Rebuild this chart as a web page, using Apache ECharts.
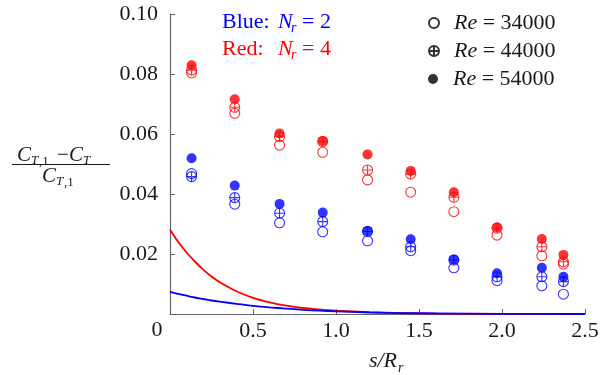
<!DOCTYPE html>
<html>
<head>
<meta charset="utf-8">
<script src="https://cdn.jsdelivr.net/npm/echarts@6/dist/echarts.min.js"></script>
<style>html,body{margin:0;padding:0;background:#fff;}#c{width:614px;height:375px;}</style>
</head>
<body>
<div id="c"></div>
<script>
// ---- data ----
var xPos = [0.13, 0.39, 0.66, 0.92, 1.19, 1.45, 1.71, 1.97, 2.24, 2.37];
var red34 = [0.0804, 0.0669, 0.0563, 0.0539, 0.0447, 0.0406, 0.0341, 0.0263, 0.0194, 0.0166];
var red44 = [0.0813, 0.0689, 0.0591, 0.0575, 0.0480, 0.0466, 0.0389, 0.0286, 0.0224, 0.0174];
var red54 = [0.0829, 0.0716, 0.0602, 0.0577, 0.0532, 0.0477, 0.0406, 0.0289, 0.0250, 0.0197];
var blue34 = [0.0468, 0.0366, 0.0304, 0.0274, 0.0244, 0.0211, 0.0154, 0.0111, 0.0094, 0.0066];
var blue44 = [0.0458, 0.0388, 0.0336, 0.0308, 0.0275, 0.0224, 0.0180, 0.0124, 0.0124, 0.0108];
var blue54 = [0.0519, 0.0428, 0.0367, 0.0338, 0.0277, 0.0249, 0.0182, 0.0136, 0.0154, 0.0124];
var curveX = [0, 0.05, 0.1, 0.15, 0.2, 0.25, 0.3, 0.4, 0.5, 0.6, 0.7, 0.8, 0.9, 1.0, 1.2, 1.4, 1.6, 2.0, 2.5];
var redCurve = [0.0282, 0.0240, 0.0205, 0.0175, 0.0148, 0.0125, 0.0106, 0.0076, 0.0054, 0.0039, 0.0028, 0.0020, 0.0015, 0.0011, 0.0006, 0.0003, 0.0001, 0.0, 0.0];
var blueCurve = [0.0074, 0.0067, 0.0061, 0.0055, 0.0050, 0.0045, 0.0041, 0.0034, 0.0027, 0.0022, 0.0018, 0.0014, 0.0011, 0.0009, 0.0005, 0.0003, 0.0002, 0.00005, 0.0];
var xTickLabels = ['0', '0.5', '1.0', '1.5', '2.0', '2.5'];
var yTickLabels = ['0', '0.02', '0.04', '0.06', '0.08', '0.10'];
var legendNames = ['Re = 34000', 'Re = 44000', 'Re = 54000'];

var FONT = 'Liberation Serif';
var RED = '#ff0000', BLUE = '#0000ff', TXT = '#1a1a1a';
var crossPath = 'path://M-5,0A5,5,0,1,1,5,0A5,5,0,1,1,-5,0ZM0,-5L0,5M-5,0L5,0';

function pairs(xs, ys) { return xs.map(function (x, i) { return [x, ys[i]]; }); }

function markerStyle(kind, color) {
  if (kind === 'hollow') return { symbol: 'circle', itemStyle: { color: 'transparent', borderColor: color, borderWidth: 1.1 } };
  if (kind === 'cross') return { symbol: crossPath, itemStyle: { color: 'transparent', borderColor: color, borderWidth: 1.1 } };
  return { symbol: 'circle', itemStyle: { color: color, borderWidth: 0 } };
}

function scatter(name, ys, kind, color) {
  var m = markerStyle(kind, color);
  return {
    name: name, type: 'scatter', data: pairs(xPos, ys),
    symbol: m.symbol, symbolSize: 10, itemStyle: m.itemStyle, z: 3
  };
}

var series = [
  { name: 'redCurve', type: 'line', data: pairs(curveX, redCurve), showSymbol: false, smooth: 0.3,
    lineStyle: { color: RED, width: 1.8 }, z: 2 },
  { name: 'blueCurve', type: 'line', data: pairs(curveX, blueCurve), showSymbol: false, smooth: 0.3,
    lineStyle: { color: BLUE, width: 1.8 }, z: 2 },
  scatter('b34', blue34, 'hollow', BLUE),
  scatter('b44', blue44, 'cross', BLUE),
  scatter('b54', blue54, 'filled', BLUE),
  scatter('r34', red34, 'hollow', RED),
  scatter('r44', red44, 'cross', RED),
  scatter('r54', red54, 'filled', RED)
];
// legend-only series (black markers)
var kinds = ['hollow', 'cross', 'filled'];
legendNames.forEach(function (n, i) {
  var m = markerStyle(kinds[i], '#000');
  series.push({ name: n, type: 'scatter', data: [], symbol: m.symbol, symbolSize: 10, itemStyle: m.itemStyle });
});

var legends = legendNames.map(function (n, i) {
  return {
    data: [n], orient: 'vertical', left: 428, top: 11 + i * 28, padding: 0,
    itemWidth: 30, itemHeight: 10, selectedMode: false,
    formatter: function (name) { return '{i|Re}{t|' + name.slice(2) + '}'; },
    textStyle: {
      fontFamily: FONT, fontSize: 22, color: TXT, lineHeight: 24,
      rich: {
        i: { fontFamily: FONT, fontSize: 22, fontStyle: 'italic', color: TXT },
        t: { fontFamily: FONT, fontSize: 22, color: TXT }
      }
    }
  };
});

function txt(x, y, s, size, opts) {
  opts = opts || {};
  return {
    type: 'text', x: x, y: y, z: 10,
    style: {
      text: s, x: 0, y: 0, fontFamily: FONT, fontSize: size,
      fontStyle: opts.italic ? 'italic' : 'normal',
      fill: opts.color || TXT, align: opts.align || 'left', verticalAlign: 'middle'
    }
  };
}

var graphics = [
  // Nr legend text
  txt(222, 22, 'Blue:', 22, { color: BLUE }),
  txt(278, 22, 'N', 22, { color: BLUE, italic: true }),
  txt(291, 28, 'r', 14, { color: BLUE, italic: true }),
  txt(302, 22, '= 2', 22, { color: BLUE }),
  txt(222, 49, 'Red:', 22, { color: RED }),
  txt(278, 49, 'N', 22, { color: RED, italic: true }),
  txt(291, 55, 'r', 14, { color: RED, italic: true }),
  txt(302, 49, '= 4', 22, { color: RED }),
  // shared zero label
  txt(157, 330, '0', 22, { align: 'center' }),
  // x axis title
  txt(397, 361, 's/R', 22, { italic: true, align: 'right' }),
  txt(398, 368, 'r', 14, { italic: true }),
  // y axis title (fraction)
  txt(17, 155, 'C', 21, { italic: true }),
  txt(31, 161, 'T', 13, { italic: true }),
  txt(39, 162, ',1', 13, {}),
  txt(63, 155, '\u2212', 21, { align: 'center' }),
  txt(69, 155, 'C', 21, { italic: true }),
  txt(83, 161, 'T', 13, { italic: true }),
  txt(42, 176, 'C', 21, { italic: true }),
  txt(56, 182, 'T', 13, { italic: true }),
  txt(64, 183, ',1', 13, {}),
  { type: 'line', z: 10, shape: { x1: 12, y1: 164.5, x2: 110, y2: 164.5 }, style: { stroke: TXT, lineWidth: 1 } }
];

var chart = echarts.init(document.getElementById('c'), null, { renderer: 'canvas' });
chart.setOption({
  animation: false,
  backgroundColor: '#fff',
  grid: { left: 170, right: 29, top: 14, bottom: 61 },
  xAxis: {
    type: 'value', min: 0, max: 2.5, interval: 0.5,
    axisLine: { lineStyle: { color: '#666', width: 1.2 } },
    axisTick: { inside: true, length: 5, lineStyle: { color: '#666' } },
    splitLine: { show: false },
    axisLabel: {
      showMinLabel: false, margin: 6, fontFamily: FONT, fontSize: 22, color: TXT,
      formatter: function (v) { return xTickLabels[Math.round(v / 0.5)]; }
    }
  },
  yAxis: {
    type: 'value', min: 0, max: 0.1, interval: 0.02,
    axisLine: { show: true, lineStyle: { color: '#666', width: 1.2 } },
    axisTick: { show: true, inside: true, length: 5, lineStyle: { color: '#666' } },
    splitLine: { show: false },
    axisLabel: {
      showMinLabel: false, margin: 12, fontFamily: FONT, fontSize: 22, color: TXT,
      formatter: function (v) { return yTickLabels[Math.round(v / 0.02)]; }
    }
  },
  legend: legends,
  graphic: graphics,
  series: series
});
</script>
</body>
</html>
